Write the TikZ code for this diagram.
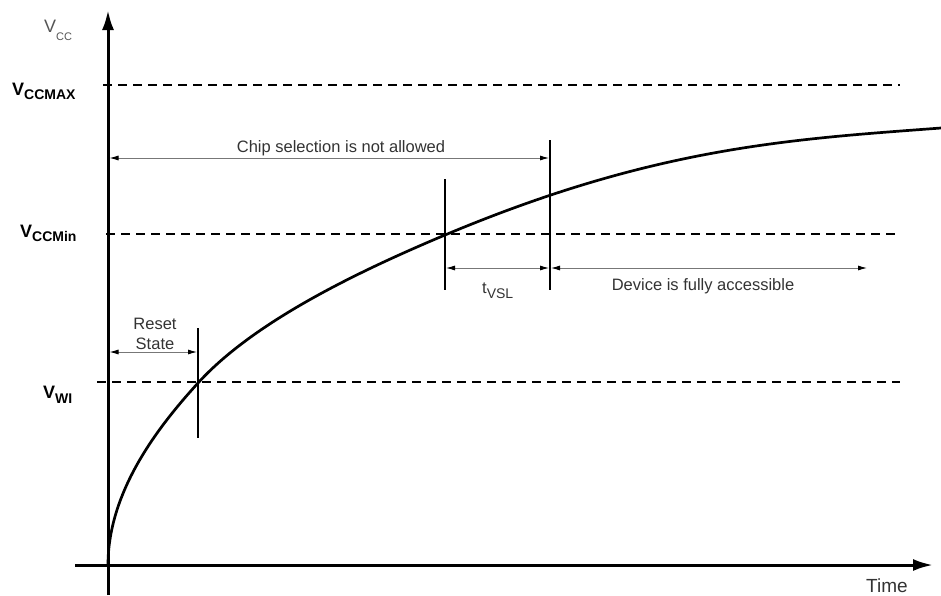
\documentclass[tikz,border=0pt]{standalone}
\usepackage{fontspec}
\setmainfont{Liberation Sans}
\usetikzlibrary{arrows.meta}
\newcommand\lowsub[3]{\raisebox{-#1pt}{\fontsize{#2}{#2}\selectfont #3}}
\definecolor{txt}{HTML}{333333}
\definecolor{vcc}{HTML}{555555}
\definecolor{dim}{HTML}{777777}
\begin{document}
\begin{tikzpicture}[x=1pt,y=-1pt,
  axis/.style={line width=3pt,-{Latex[length=20pt,width=12pt]}},
  level/.style={line width=2.4pt,dash pattern=on 9pt off 6pt},
  marker/.style={line width=2.2pt},
  dimarrow/.style={line width=0.9pt,draw=dim,
    {Latex[length=9pt,width=5pt,color=black]}-{Latex[length=9pt,width=5pt,color=black]}},
  lab/.style={text=txt,inner sep=0pt,font=\fontsize{16.5}{20}\selectfont},
  vlab/.style={inner sep=0pt,anchor=base west,font=\bfseries\fontsize{18}{20}\selectfont},
  curve/.style={line width=2.7pt,line join=round}]
\useasboundingbox (0,0) rectangle (941,595);

% coordinates
\coordinate (yb) at (108,595);
\coordinate (yt) at (108,10);
\coordinate (xl) at (75,565);
\coordinate (xr) at (933,565);
\coordinate (maxL) at (103,85);
\coordinate (maxR) at (900,85);
\coordinate (minL) at (106,234);
\coordinate (minR) at (900,234);
\coordinate (wiL) at (97,382);
\coordinate (wiR) at (900,382);
\coordinate (m1t) at (198,328);
\coordinate (m1b) at (198,438);
\coordinate (m2t) at (445,179);
\coordinate (m2b) at (445,290);
\coordinate (m3t) at (550,140);
\coordinate (m3b) at (550,290);
\coordinate (chipL) at (109.5,158);
\coordinate (chipR) at (549,158);
\coordinate (rsL) at (109.5,352);
\coordinate (rsR) at (197,352);
\coordinate (tvL) at (446,268);
\coordinate (tvR) at (549,268);
\coordinate (dvL) at (551,268);
\coordinate (dvR) at (867,268);
% curve points
\coordinate (c0) at (108,565);
\coordinate (c1) at (198,383);
\coordinate (c2) at (445,235);
\coordinate (c3) at (941,128);

% level lines
\draw[level] (maxL) -- (maxR);
\draw[level] (minL) -- (minR);
\draw[level] (wiL) -- (wiR);

% axes
\draw[axis] (yb) -- (yt);
\draw[axis] (xl) -- (xr);

% curve
\draw[curve] (c0) .. controls (108,490) and (160,424.8) .. (c1)
  .. controls (253,322.5) and (355,272.8) .. (c2)
  .. controls (655,146.8) and (791,139.25) .. (c3);

% markers
\draw[marker] (m1t) -- (m1b);
\draw[marker] (m2t) -- (m2b);
\draw[marker] (m3t) -- (m3b);

% dimension arrows
\draw[dimarrow] (chipL) -- (chipR);
\draw[dimarrow] (rsL) -- (rsR);
\draw[dimarrow] (tvL) -- (tvR);
\draw[dimarrow] (dvL) -- (dvR);

% labels
\node[inner sep=0pt,anchor=base west,text=vcc,font=\fontsize{18}{20}\selectfont] (vcclab) at (44,32) {V\lowsub{8}{11}{CC}};
\node[vlab] (vmax) at (12,95) {V\lowsub{4}{14}{CCMAX}};
\node[vlab] (vmin) at (20,237) {V\lowsub{4}{14}{CCMin}};
\node[vlab] (vwi) at (43,398) {V\lowsub{5}{14}{WI}};
\node[lab,anchor=base] (chip) at (341,152) {Chip selection is not allowed};
\node[lab,anchor=base] (reset) at (155,329) {Reset};
\node[lab,anchor=base] (state) at (155,349) {State};
\node[lab,anchor=base west] (tvsl) at (482,293) {t\lowsub{5}{14}{VSL}};
\node[lab,anchor=base] (device) at (703,290) {Device is fully accessible};
\node[lab,anchor=base west,font=\fontsize{19}{22}\selectfont] (time) at (866,592) {Time};
\end{tikzpicture}
\end{document}
